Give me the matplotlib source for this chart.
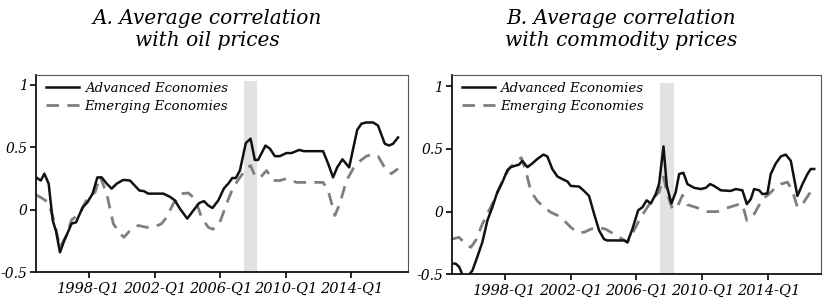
import matplotlib
matplotlib.use("Agg")
import matplotlib.pyplot as plt

plt.rcParams['font.family'] = ['DejaVu Serif']
plt.rcParams['font.style'] = 'italic'

# Panel A: average correlation with oil prices
oil_adv_t = [1994.77, 1995.06, 1995.28, 1995.54, 1995.79, 1995.99, 1996.23, 1996.48, 1996.94, 1997.21,
             1997.61, 1997.90, 1998.22, 1998.51, 1998.77, 1999.08, 1999.38, 1999.69, 2000.09, 2000.50,
             2001.07, 2001.35, 2001.61, 2002.53, 2002.93, 2003.24, 2003.54, 2003.99, 2004.36, 2004.72,
             2005.01, 2005.27, 2005.53, 2005.88, 2006.22, 2006.55, 2006.73, 2006.95, 2007.20, 2007.56,
             2007.85, 2008.11, 2008.31, 2008.76, 2009.03, 2009.33, 2009.63, 2010.04, 2010.35, 2010.81,
             2011.10, 2011.46, 2012.27, 2012.58, 2012.88, 2013.13, 2013.45, 2013.86, 2014.35, 2014.61,
             2014.91, 2015.32, 2015.62, 2016.03, 2016.29, 2016.54, 2016.84]
oil_adv = [0.26, 0.235, 0.29, 0.21, -0.085, -0.17, -0.34, -0.25, -0.11, -0.10,
           0.02, 0.06, 0.13, 0.26, 0.26, 0.21, 0.17, 0.21, 0.24, 0.235,
           0.155, 0.15, 0.13, 0.13, 0.105, 0.075, 0.01, -0.07, -0.005, 0.055,
           0.07, 0.035, 0.015, 0.075, 0.17, 0.22, 0.255, 0.255, 0.315, 0.535,
           0.57, 0.40, 0.40, 0.515, 0.49, 0.43, 0.43, 0.455, 0.455, 0.48,
           0.47, 0.47, 0.47, 0.37, 0.26, 0.34, 0.405, 0.34, 0.64, 0.69,
           0.70, 0.70, 0.675, 0.53, 0.515, 0.53, 0.58]

oil_em_t = [1994.77, 1995.12, 1995.52, 1995.83, 1996.23, 1996.64, 1996.94, 1997.45, 1997.96, 1998.37,
            1998.67, 1999.08, 1999.48, 1999.89, 2000.13, 2000.50, 2001.01, 2001.51, 2002.02, 2002.43,
            2002.73, 2003.14, 2003.64, 2004.05, 2004.46, 2004.86, 2005.27, 2005.57, 2005.98, 2006.39,
            2006.79, 2007.20, 2007.60, 2007.85, 2008.11, 2008.42, 2008.82, 2009.23, 2009.63, 2010.04,
            2010.65, 2011.46, 2012.27, 2012.58, 2012.99, 2013.29, 2013.70, 2014.10, 2014.51, 2014.91,
            2015.28, 2015.62, 2016.13, 2016.44, 2016.84]
oil_em = [0.12, 0.095, 0.06, -0.07, -0.30, -0.20, -0.08, -0.03, 0.11, 0.14,
          0.27, 0.13, -0.11, -0.19, -0.22, -0.165, -0.125, -0.14, -0.135, -0.11,
          -0.06, 0.05, 0.13, 0.135, 0.09, -0.06, -0.14, -0.155, -0.10, 0.05,
          0.18, 0.26, 0.33, 0.355, 0.275, 0.255, 0.315, 0.235, 0.235, 0.25,
          0.22, 0.22, 0.22, 0.155, -0.045, 0.05, 0.235, 0.33, 0.39, 0.43,
          0.445, 0.43, 0.315, 0.29, 0.33]

# Panel B: average correlation with commodity prices
com_adv_t = [1994.78, 1995.02, 1995.23, 1995.49, 1995.73, 1996.04, 1996.34, 1996.64, 1996.95, 1997.25,
             1997.55, 1997.86, 1998.16, 1998.36, 1998.87, 1999.07, 1999.38, 1999.68, 1999.98, 2000.35,
             2000.59, 2000.89, 2001.20, 2001.50, 2001.81, 2002.01, 2002.51, 2002.82, 2003.12, 2003.43,
             2003.73, 2004.03, 2004.23, 2005.25, 2005.45, 2005.75, 2006.10, 2006.36, 2006.62, 2006.87,
             2007.17, 2007.37, 2007.64, 2007.84, 2008.12, 2008.38, 2008.59, 2008.85, 2009.09, 2009.50,
             2009.90, 2010.21, 2010.47, 2010.71, 2011.12, 2011.72, 2012.03, 2012.43, 2012.70, 2012.94,
             2013.14, 2013.45, 2013.65, 2013.95, 2014.15, 2014.46, 2014.76, 2015.06, 2015.37, 2015.77,
             2016.08, 2016.38, 2016.58, 2016.79]
com_adv = [-0.415, -0.415, -0.44, -0.52, -0.52, -0.47, -0.36, -0.245, -0.07, 0.035,
           0.155, 0.235, 0.33, 0.355, 0.375, 0.405, 0.355, 0.385, 0.42, 0.455,
           0.44, 0.34, 0.28, 0.26, 0.24, 0.205, 0.20, 0.165, 0.125, -0.02,
           -0.15, -0.22, -0.23, -0.23, -0.245, -0.14, 0.01, 0.035, 0.09, 0.065,
           0.14, 0.22, 0.52, 0.205, 0.065, 0.155, 0.30, 0.31, 0.22, 0.19,
           0.18, 0.19, 0.22, 0.205, 0.17, 0.165, 0.18, 0.17, 0.06, 0.10,
           0.18, 0.17, 0.14, 0.145, 0.30, 0.385, 0.44, 0.455, 0.405, 0.125,
           0.22, 0.30, 0.34, 0.34]

com_em_t = [1994.78, 1995.23, 1995.63, 1995.94, 1996.24, 1996.64, 1997.05, 1997.45, 1997.86, 1998.26,
            1998.67, 1999.01, 1999.28, 1999.58, 1999.98, 2000.39, 2000.79, 2001.20, 2001.60, 2002.01,
            2002.41, 2002.82, 2003.22, 2003.63, 2004.13, 2004.64, 2005.15, 2005.45, 2005.85, 2006.26,
            2006.66, 2007.07, 2007.37, 2007.64, 2007.88, 2008.18, 2008.49, 2008.79, 2009.09, 2009.70,
            2010.31, 2010.91, 2011.52, 2012.13, 2012.43, 2012.70, 2013.14, 2013.65, 2014.05, 2014.46,
            2014.76, 2015.17, 2015.47, 2015.77, 2016.08, 2016.48, 2016.68]
com_em = [-0.22, -0.205, -0.26, -0.285, -0.23, -0.10, 0.01, 0.115, 0.245, 0.34,
          0.40, 0.43, 0.325, 0.165, 0.085, 0.035, -0.005, -0.03, -0.07, -0.125,
          -0.165, -0.165, -0.14, -0.125, -0.14, -0.18, -0.22, -0.245, -0.15, -0.045,
          0.035, 0.115, 0.155, 0.275, 0.14, 0.02, 0.04, 0.13, 0.055, 0.03,
          0.00, 0.00, 0.03, 0.055, 0.06, -0.07, -0.02, 0.10, 0.14, 0.195,
          0.22, 0.235, 0.165, 0.035, 0.06, 0.14, 0.18]

tick_years = [1998, 2002, 2006, 2010, 2014]
tick_labels = ["1998-Q1", "2002-Q1", "2006-Q1", "2010-Q1", "2014-Q1"]
crisis = (2007.45, 2008.25)

titles = ["A. Average correlation\nwith oil prices",
          "B. Average correlation\nwith commodity prices"]

fig = plt.figure(figsize=(8.28, 3.05), dpi=100)
ax_a = fig.add_axes([0.0435, 0.1072, 0.4493, 0.6469])
ax_b = fig.add_axes([0.5455, 0.1007, 0.4460, 0.6534])

panels = [
    (ax_a, oil_adv_t, oil_adv, oil_em_t, oil_em, (1994.77, 2017.45), 1.08),
    (ax_b, com_adv_t, com_adv, com_em_t, com_em, (1994.78, 2017.20), 1.09),
]

for ax, at, av, et, ev, xl, ytop in panels:
    ax.fill_between(crisis, -0.5, 1.03, color="#e2e2e5", lw=0, zorder=0)
    ax.plot(et, ev, color="#7f7f7f", lw=2.0, dashes=(4.5, 3), label="Emerging Economies", zorder=2)
    ax.plot(at, av, color="#111111", lw=1.8, label="Advanced Economies", zorder=3)
    ax.set_xlim(*xl)
    ax.set_ylim(-0.5, ytop)
    ax.set_yticks([-0.5, 0, 0.5, 1])
    ax.set_yticklabels(["-0.5", "0", "0.5", "1"])
    ax.set_xticks(tick_years)
    ax.set_xticklabels(tick_labels)
    ax.tick_params(axis="both", direction="out", length=4, width=1.2, pad=3)
    ax.tick_params(axis="x", labelsize=10.5)
    ax.tick_params(axis="y", labelsize=10, pad=2)
    for s in ["left", "bottom"]:
        ax.spines[s].set_linewidth(1.3)
        ax.spines[s].set_color("#111111")
    for s in ["top", "right"]:
        ax.spines[s].set_linewidth(0.8)
        ax.spines[s].set_color("#555555")
    h, l = ax.get_legend_handles_labels()
    ax.legend(h[::-1], l[::-1], loc="upper left", bbox_to_anchor=(0.028, 0.965),
              frameon=False, fontsize=9.5, handlelength=2.5, handletextpad=0.4,
              labelspacing=0.35, borderpad=0, borderaxespad=0)

fig.text(207 / 828, 1 - 9 / 305, titles[0], ha="center", va="top", fontsize=14.5, linespacing=1.2)
fig.text(621 / 828, 1 - 9 / 305, titles[1], ha="center", va="top", fontsize=14.5, linespacing=1.2)

fig.savefig("out.png", dpi=100)
